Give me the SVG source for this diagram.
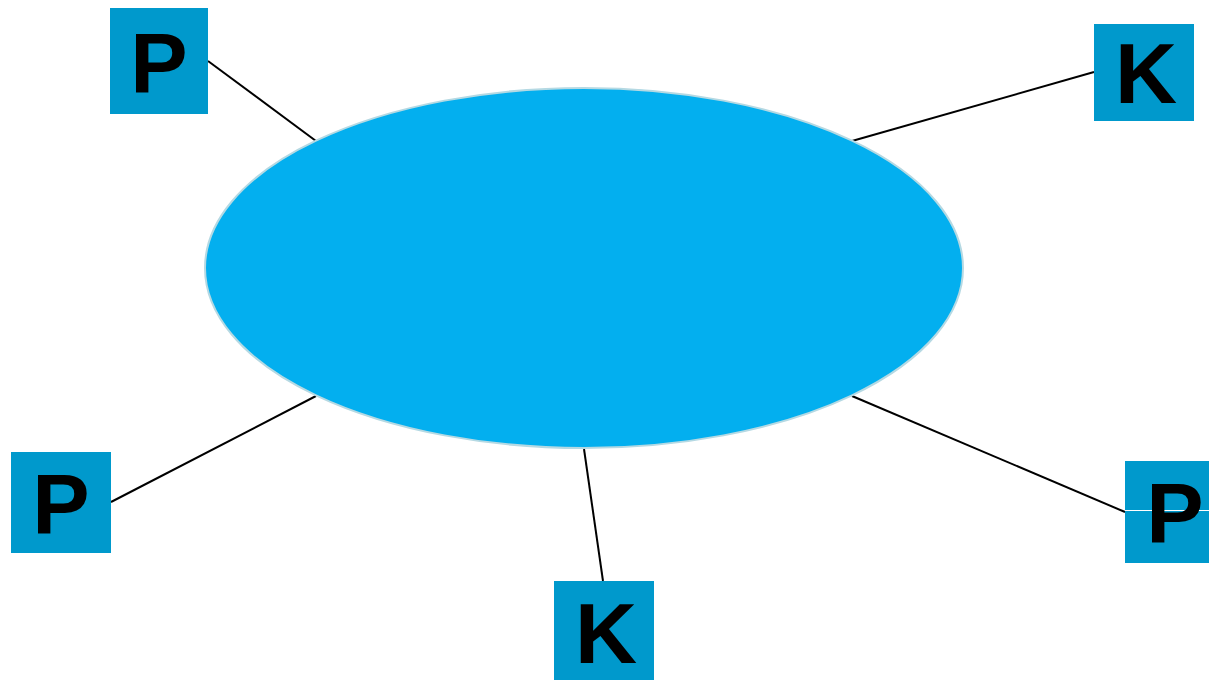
<svg xmlns="http://www.w3.org/2000/svg" width="1209" height="680" viewBox="0 0 1209 680">
<style>
.box{fill:#0099CC}
.lbl{font-family:"Liberation Sans",Arial,sans-serif;font-weight:bold;font-size:86px;fill:#000;text-anchor:middle}
.con{stroke:#000;stroke-width:2;fill:none}
</style>
<rect width="1209" height="680" fill="#fff"/>
<g id="connectors">
<line class="con" x1="208" y1="61" x2="316" y2="141"/>
<line class="con" x1="852" y1="141" x2="1094" y2="72"/>
<line class="con" x1="111" y1="502" x2="316" y2="396"/>
<line class="con" x1="584" y1="449" x2="603" y2="581"/>
<line class="con" x1="852" y1="396" x2="1125" y2="512"/>
</g>
<g id="center">
<ellipse cx="584" cy="268" rx="379" ry="180" fill="#03AFEF" stroke="#B5D9E3" stroke-width="2"/>
</g>
<g id="p-top-left">
<rect class="box" x="110" y="8" width="98" height="106"/>
<text class="lbl" x="159" y="93">P</text>
</g>
<g id="k-top-right">
<rect class="box" x="1094" y="24" width="100" height="97"/>
<text class="lbl" x="1146" y="103">K</text>
</g>
<g id="p-left">
<rect class="box" x="11" y="452" width="100" height="101"/>
<text class="lbl" x="61" y="534">P</text>
</g>
<g id="k-bottom">
<rect class="box" x="554" y="581" width="100" height="99"/>
<text class="lbl" x="606" y="663">K</text>
</g>
<g id="p-right">
<rect class="box" x="1125" y="461" width="84" height="102"/>
<line x1="1125" y1="510.5" x2="1209" y2="510.5" stroke="#fff" stroke-width="1"/>
<text class="lbl" x="1175" y="543">P</text>
</g>
</svg>
